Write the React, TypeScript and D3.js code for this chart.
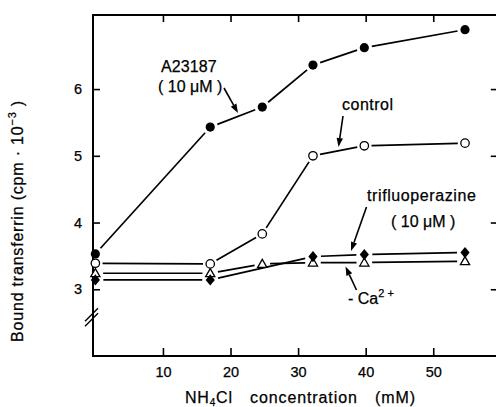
import React, { useEffect, useRef } from "react";
import * as d3 from "d3";

// ---- data ----
const concA = [0, 17, 24.7, 32.2, 39.8, 54.7];
const a23187 = [3.53, 5.43, 5.73, 6.36, 6.62, 6.89];
const concControl = [0, 17, 24.7, 32.2, 39.8, 54.7];
const control = [3.39, 3.38, 3.83, 5.0, 5.15, 5.19];
const concTrif = [0, 17, 32.2, 39.8, 54.7];
const trifluoperazine = [3.14, 3.14, 3.49, 3.52, 3.55];
const concCa = [0, 17, 24.7, 32.2, 39.8, 54.7];
const minusCa = [3.24, 3.24, 3.38, 3.4, 3.4, 3.42];
const xTickValues = [10, 20, 30, 40, 50];
const yTickValues = [3, 4, 5, 6];

const W = 496;
const H = 407;
const FONT = "'Liberation Sans', Arial, Helvetica, sans-serif";

type Kind = "dot" | "circle" | "diamond" | "triangle";

export default function App() {
  const ref = useRef<SVGSVGElement | null>(null);

  useEffect(() => {
    const svg = d3.select(ref.current);
    svg.selectAll("*").remove();

    const x = d3.scaleLinear().domain([-0.35, 59.7]).range([93, 498.8]);
    const y = d3.scaleLinear().domain([2, 7.11]).range([356, 15]);
    const x0 = x.range()[0], x1 = x.range()[1];
    const y0 = y.range()[0], y1 = y.range()[1];

    const g = svg.append("g");

    // frame
    g.append("rect")
      .attr("x", x0).attr("y", y1)
      .attr("width", x1 - x0).attr("height", y0 - y1)
      .attr("fill", "none").attr("stroke", "#000").attr("stroke-width", 2);

    const styleAxis = (sel: any, showLabels: boolean) => {
      sel.select(".domain").remove();
      sel.selectAll(".tick line").attr("stroke", "#000").attr("stroke-width", 1.6);
      sel.selectAll(".tick text")
        .attr("font-family", FONT).attr("font-size", 14.5)
        .attr("fill", "#000").attr("stroke", "#000").attr("stroke-width", 0.25);
      if (!showLabels) sel.selectAll(".tick text").remove();
    };

    g.append("g").attr("transform", `translate(0,${y0})`)
      .call(d3.axisBottom(x).tickValues(xTickValues).tickSizeInner(-8).tickSizeOuter(0).tickPadding(10.5).tickFormat(d3.format("d")) as any)
      .call((s: any) => styleAxis(s, true));
    g.append("g").attr("transform", `translate(0,${y1})`)
      .call(d3.axisTop(x).tickValues(xTickValues).tickSizeInner(-7).tickSizeOuter(0) as any)
      .call((s: any) => styleAxis(s, false));
    g.append("g").attr("transform", `translate(${x0},0)`)
      .call(d3.axisLeft(y).tickValues(yTickValues).tickSizeInner(-7).tickSizeOuter(0).tickPadding(11).tickFormat(d3.format("d")) as any)
      .call((s: any) => styleAxis(s, true));
    g.append("g").attr("transform", `translate(${x1},0)`)
      .call(d3.axisRight(y).tickValues(yTickValues).tickSizeInner(-8).tickSizeOuter(0) as any)
      .call((s: any) => styleAxis(s, false));

    // axis break
    const yb = y(2.61);
    [0, 5].forEach((o) => {
      g.append("line")
        .attr("x1", x0 - 8).attr("y1", yb + 6 + o)
        .attr("x2", x0 + 5).attr("y2", yb - 7 + o)
        .attr("stroke", "#000").attr("stroke-width", 1.5);
    });

    const radius: Record<Kind, number> = { dot: 4.6, circle: 4.2, diamond: 5, triangle: 4.8 };

    const drawSeries = (xs: number[], ys: number[], kind: Kind) => {
      const pts = xs.map((v, i) => [x(v), y(ys[i])]);
      const gap = radius[kind] + 3;
      for (let i = 0; i < pts.length - 1; i++) {
        const [ax, ay] = pts[i];
        const [bx, by] = pts[i + 1];
        const dx = bx - ax, dy = by - ay;
        const len = Math.hypot(dx, dy);
        const ux = dx / len, uy = dy / len;
        g.append("line")
          .attr("x1", ax + ux * gap).attr("y1", ay + uy * gap)
          .attr("x2", bx - ux * gap).attr("y2", by - uy * gap)
          .attr("stroke", "#000").attr("stroke-width", 1.7);
      }
      return pts;
    };

    const drawMarkers = (pts: number[][], kind: Kind) => {
      pts.forEach(([px, py]) => {
        if (kind === "dot") {
          g.append("circle").attr("cx", px).attr("cy", py).attr("r", radius.dot).attr("fill", "#000");
        } else if (kind === "circle") {
          g.append("circle").attr("cx", px).attr("cy", py).attr("r", radius.circle)
            .attr("fill", "#fff").attr("stroke", "#000").attr("stroke-width", 1.3);
        } else if (kind === "diamond") {
          const w = 4.6, h = 5.6;
          g.append("path")
            .attr("d", `M${px},${py - h}L${px + w},${py}L${px},${py + h}L${px - w},${py}Z`)
            .attr("fill", "#000");
        } else {
          const s = 4.6;
          g.append("path")
            .attr("d", `M${px},${py - s}L${px + s},${py + s * 0.75}L${px - s},${py + s * 0.75}Z`)
            .attr("fill", "#fff").attr("stroke", "#000").attr("stroke-width", 1.3);
        }
      });
    };

    const pA = drawSeries(concA, a23187, "dot");
    const pC = drawSeries(concControl, control, "circle");
    const pT = drawSeries(concTrif, trifluoperazine, "diamond");
    const pCa = drawSeries(concCa, minusCa, "triangle");
    drawMarkers(pCa, "triangle");
    drawMarkers(pT, "diamond");
    drawMarkers(pC, "circle");
    drawMarkers(pA, "dot");

    // arrows
    const arrow = (xa: number, ya: number, xb: number, yb2: number) => {
      const dx = xb - xa, dy = yb2 - ya;
      const len = Math.hypot(dx, dy);
      const ux = dx / len, uy = dy / len;
      const hl = 9, hw = 3.2;
      const bx = xb - ux * hl, by = yb2 - uy * hl;
      g.append("line").attr("x1", xa).attr("y1", ya).attr("x2", bx).attr("y2", by)
        .attr("stroke", "#000").attr("stroke-width", 1.6);
      g.append("path")
        .attr("d", `M${xb},${yb2}L${bx - uy * hw},${by + ux * hw}L${bx + uy * hw},${by - ux * hw}Z`)
        .attr("fill", "#000");
    };
    arrow(224, 88, 238, 113);
    arrow(343, 116, 338.5, 147);
    arrow(366.5, 207, 351, 251);
    arrow(356.5, 290, 345.5, 266.5);

    const text = (tx: number, ty: number, s: string, size = 16, anchor = "start") =>
      g.append("text").attr("x", tx).attr("y", ty).attr("font-family", FONT)
        .attr("font-size", size).attr("text-anchor", anchor)
        .attr("fill", "#000").attr("stroke", "#000").attr("stroke-width", 0.25).text(s);

    text(161, 72, "A23187").attr("letter-spacing", 0.1);
    text(158, 92, "( 10 μM )");
    text(342, 110, "control").attr("letter-spacing", 0.5);
    text(367, 201, "trifluoperazine").attr("letter-spacing", 0.6);
    text(391, 227, "( 10 μM )");

    const ca = text(348, 304, "- Ca");
    ca.append("tspan").attr("dy", -7).attr("font-size", 11).text("2 +");

    const xl = text(185, 403, "NH");
    xl.attr("letter-spacing", 0.8);
    xl.append("tspan").attr("dy", 3).attr("font-size", 10).text("4");
    xl.append("tspan").attr("dy", -3).text("Cl");
    text(250, 403, "concentration").attr("letter-spacing", 0.9);
    text(375, 403, "(mM)").attr("letter-spacing", 0.9);

    const yl = g.append("text")
      .attr("transform", `translate(23,${221}) rotate(-90)`)
      .attr("text-anchor", "middle").attr("font-family", FONT).attr("font-size", 16)
      .attr("fill", "#000").attr("stroke", "#000").attr("stroke-width", 0.25)
      .attr("letter-spacing", 0.8);
    yl.append("tspan").text("Bound  transferrin  (cpm · 10");
    yl.append("tspan").attr("dy", -7).attr("font-size", 11).text("−3");
    yl.append("tspan").attr("dy", 7).text(" )");
  }, []);

  return (
    <svg
      ref={ref}
      width={W}
      height={H}
      style={{ position: "absolute", left: 0, top: 0, background: "#fff" }}
    />
  );
}
